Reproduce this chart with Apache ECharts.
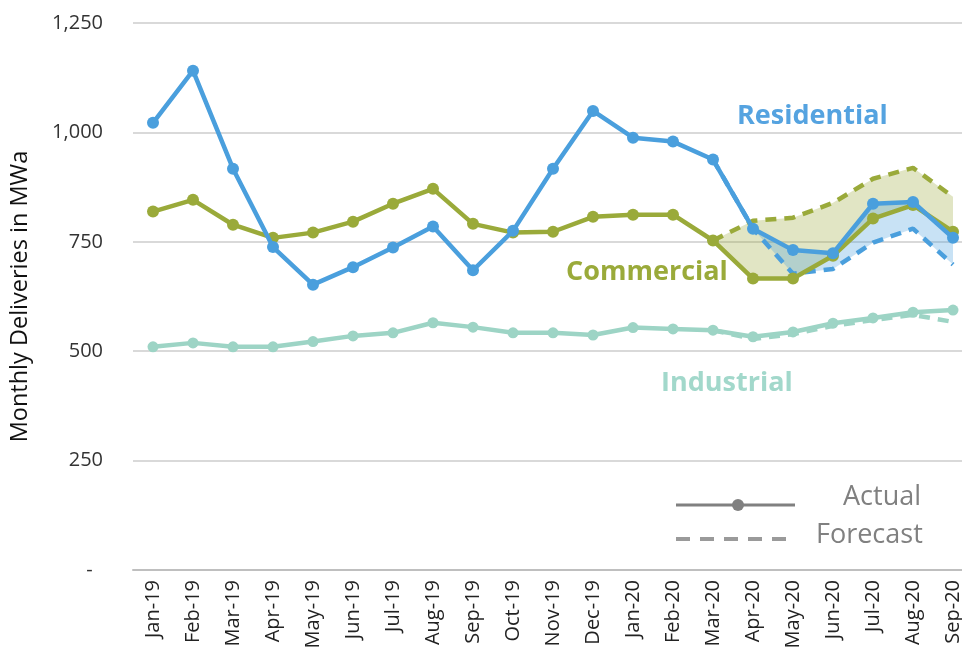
<!DOCTYPE html>
<html>
<head>
<meta charset="utf-8">
<title>Monthly Deliveries</title>
<script src="https://cdn.jsdelivr.net/npm/echarts@6/dist/echarts.min.js"></script>
<style>
  html, body { margin: 0; padding: 0; background: #ffffff; overflow: hidden; }
  #chart { width: 980px; height: 658px; }
</style>
</head>
<body>
<div id="chart"></div>
<script>
// Months on the category axis
const months = ['Jan-19','Feb-19','Mar-19','Apr-19','May-19','Jun-19','Jul-19','Aug-19','Sep-19','Oct-19','Nov-19','Dec-19',
                'Jan-20','Feb-20','Mar-20','Apr-20','May-20','Jun-20','Jul-20','Aug-20','Sep-20'];

// Actual monthly deliveries (MWa)
const residentialActual = [1022,1141,917,738,652,692,737,785,685,775,917,1049,988,979,938,780,731,724,837,841,759];
const commercialActual  = [819,846,789,759,771,796,837,871,791,771,773,807,812,812,753,666,666,718,803,834,773];
const industrialActual  = [510,519,510,510,522,535,542,565,555,542,542,537,554,551,548,533,544,564,576,589,594];

// Forecast deliveries (MWa), from Mar-20 onward
const residentialForecast = ['-','-','-','-','-','-','-','-','-','-','-','-','-','-',938,780,677,688,748,780,698];
const commercialForecast  = ['-','-','-','-','-','-','-','-','-','-','-','-','-','-',753,798,805,839,894,919,853];
const industrialForecast  = ['-','-','-','-','-','-','-','-','-','-','-','-','-','-',548,528,539,558,571,583,567];

// Y-axis tick settings
const yMin = 0, yMax = 1250, yStep = 250;

const BLUE = '#4a9fdd', OLIVE = '#9aaa3a', TEAL = '#9dd4c5';
const FONT = '"Open Sans", Lato, "Liberation Sans", sans-serif';

// Band between two series: lower edge and the gap above it
function bandBase(a, b) {
  return a.map((v, i) => (v === '-' || b[i] === '-') ? '-' : Math.min(v, b[i]));
}
function bandGap(a, b) {
  return a.map((v, i) => (v === '-' || b[i] === '-') ? '-' : Math.abs(v - b[i]));
}
const commercialActualFromMar = commercialActual.map((v, i) => commercialForecast[i] === '-' ? '-' : v);
const residentialActualFromMar = residentialActual.map((v, i) => residentialForecast[i] === '-' ? '-' : v);

const hidden = { opacity: 0 };

const chart = echarts.init(document.getElementById('chart'), null, { renderer: 'canvas' });

chart.setOption({
  animation: false,
  backgroundColor: '#ffffff',
  textStyle: { fontFamily: FONT },
  grid: { left: 133, top: 23, width: 840, height: 547, containLabel: false },
  xAxis: {
    type: 'category',
    data: months,
    boundaryGap: true,
    axisLine: { lineStyle: { color: '#bfbfbf', width: 2 } },
    axisTick: { show: false },
    axisLabel: { rotate: 90, color: '#222', fontSize: 20, fontFamily: FONT, margin: 10, interval: 0 }
  },
  yAxis: {
    type: 'value',
    min: yMin, max: yMax, interval: yStep,
    name: 'Monthly Deliveries in MWa',
    nameLocation: 'middle',
    nameRotate: 90,
    nameGap: 101,
    nameTextStyle: { color: '#111', fontSize: 23.5, fontFamily: FONT },
    axisLine: { show: false },
    axisTick: { show: false },
    axisLabel: {
      color: '#333', fontSize: 20, fontFamily: FONT, margin: 30,
      formatter: v => v === 0 ? '-  ' : v.toLocaleString('en-US')
    },
    splitLine: { lineStyle: { color: '#d9d9d9', width: 2 } }
  },
  series: [
    // Shaded gap between commercial forecast and actual
    { type: 'line', stack: 'cBand', data: bandBase(commercialActualFromMar, commercialForecast),
      symbol: 'none', lineStyle: hidden, z: 1, silent: true },
    { type: 'line', stack: 'cBand', data: bandGap(commercialActualFromMar, commercialForecast),
      symbol: 'none', lineStyle: hidden, areaStyle: { color: OLIVE, opacity: 0.3 }, z: 1, silent: true },
    // Shaded gap between residential forecast and actual
    { type: 'line', stack: 'rBand', data: bandBase(residentialActualFromMar, residentialForecast),
      symbol: 'none', lineStyle: hidden, z: 2, silent: true },
    { type: 'line', stack: 'rBand', data: bandGap(residentialActualFromMar, residentialForecast),
      symbol: 'none', lineStyle: hidden, areaStyle: { color: BLUE, opacity: 0.3 }, z: 2, silent: true },

    // Forecast lines
    { name: 'Industrial Forecast', type: 'line', data: industrialForecast, symbol: 'none', z: 3,
      lineStyle: { color: TEAL, width: 4.5, type: [11, 8] } },
    { name: 'Commercial Forecast', type: 'line', data: commercialForecast, symbol: 'none', z: 3,
      lineStyle: { color: OLIVE, width: 4.5, type: [11, 8] } },
    { name: 'Residential Forecast', type: 'line', data: residentialForecast, symbol: 'none', z: 3,
      lineStyle: { color: BLUE, width: 4.5, type: [11, 8] } },

    // Actual lines
    { name: 'Industrial', type: 'line', data: industrialActual, symbol: 'circle', symbolSize: 11, z: 4,
      itemStyle: { color: TEAL }, lineStyle: { color: TEAL, width: 4.5 } },
    { name: 'Commercial', type: 'line', data: commercialActual, symbol: 'circle', symbolSize: 12, z: 5,
      itemStyle: { color: OLIVE }, lineStyle: { color: OLIVE, width: 4.5 } },
    { name: 'Residential', type: 'line', data: residentialActual, symbol: 'circle', symbolSize: 12, z: 6,
      itemStyle: { color: BLUE }, lineStyle: { color: BLUE, width: 4.5 } }
  ],
  graphic: [
    // Series names placed beside their lines
    { type: 'text', x: 737, y: 116, z: 10,
      style: { text: 'Residential', fill: '#55a3e0', font: 'bold 27px ' + FONT, verticalAlign: 'middle' } },
    { type: 'text', x: 566, y: 272, z: 10,
      style: { text: 'Commercial', fill: OLIVE, font: 'bold 27px ' + FONT, verticalAlign: 'middle' } },
    { type: 'text', x: 661, y: 383, z: 10,
      style: { text: 'Industrial', fill: '#a2d8cb', font: 'bold 27px ' + FONT, verticalAlign: 'middle' } },

    // Key for line styles
    { type: 'line', z: 10, shape: { x1: 676, y1: 505, x2: 795, y2: 505 },
      style: { stroke: '#808080', lineWidth: 3 } },
    { type: 'circle', z: 11, shape: { cx: 738, cy: 505, r: 6 }, style: { fill: '#808080' } },
    { type: 'text', x: 843, y: 497, z: 10,
      style: { text: 'Actual', fill: '#808080', font: '27px ' + FONT, verticalAlign: 'middle' } },
    { type: 'line', z: 10, shape: { x1: 676, y1: 539, x2: 795, y2: 539 },
      style: { stroke: '#9a9a9a', lineWidth: 4, lineDash: [14, 10] } },
    { type: 'text', x: 816, y: 535, z: 10,
      style: { text: 'Forecast', fill: '#808080', font: '27px ' + FONT, verticalAlign: 'middle' } }
  ]
});
</script>
</body>
</html>
